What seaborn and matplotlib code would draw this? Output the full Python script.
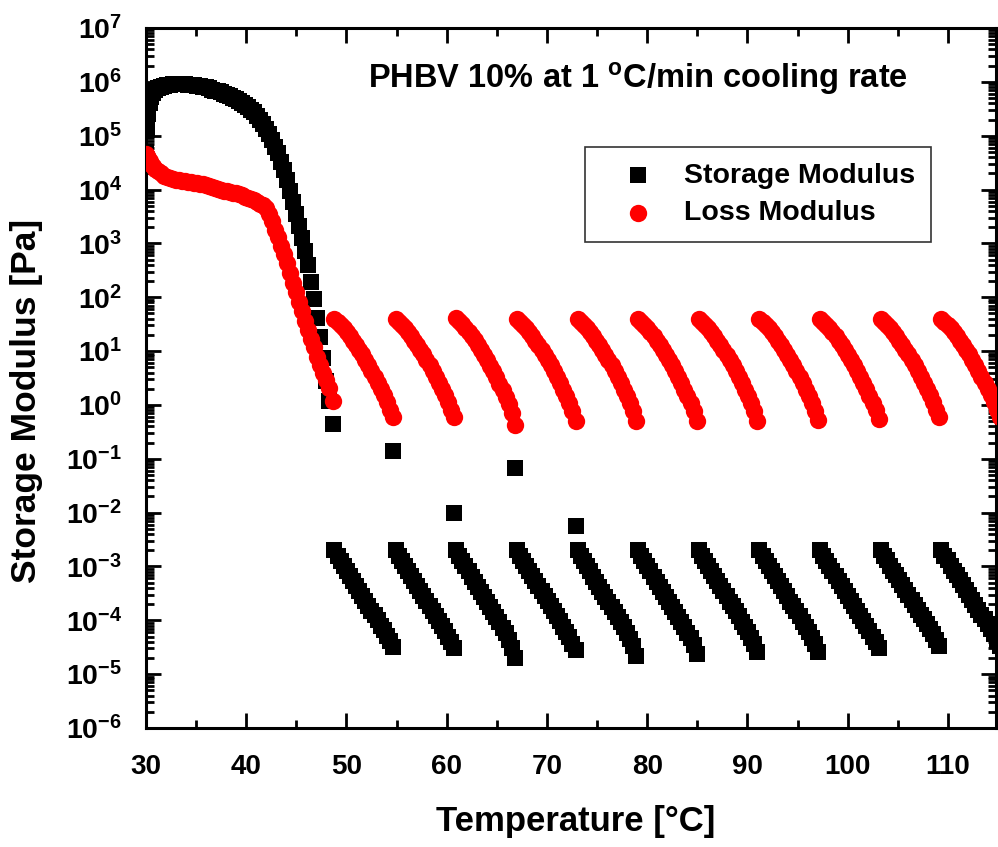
import matplotlib
matplotlib.use("Agg")
import matplotlib.pyplot as plt
import seaborn as sns
import pandas as pd
import numpy as np
from matplotlib.ticker import LogLocator, MultipleLocator, FuncFormatter, NullFormatter

# ---------------- data ----------------
temp_init = [30.0, 30.1, 30.2, 30.35, 30.5, 30.7, 30.9, 31.2, 31.5, 31.8, 32.1, 32.4, 32.7,
             33.0, 33.3, 33.6, 33.9, 34.2, 34.5, 34.8, 35.1, 35.4, 35.7, 36.0, 36.3, 36.6,
             36.9, 37.2, 37.5, 37.8, 38.1, 38.4, 38.7, 39.0, 39.3, 39.6, 39.9, 40.2, 40.5,
             40.8, 41.1, 41.4, 41.7, 42.0, 42.3, 42.6, 42.9, 43.2, 43.5, 43.8, 44.1, 44.4,
             44.7, 45.0, 45.3, 45.6, 45.9, 46.2, 46.5, 46.8, 47.1, 47.4, 47.7, 48.0, 48.3, 48.7]

storage_init = [5.0e4, 1.26e5, 2.5e5, 4.0e5, 5.25e5, 6.3e5, 7.1e5, 7.8e5, 8.1e5, 8.5e5, 8.7e5,
                8.9e5, 9.1e5, 9.1e5, 9.1e5, 9.1e5, 9.1e5, 8.9e5, 8.9e5, 8.7e5, 8.5e5, 8.3e5,
                8.1e5, 7.9e5, 7.6e5, 7.2e5, 6.9e5, 6.8e5, 6.5e5, 6.0e5, 5.75e5, 5.4e5, 5.0e5,
                4.8e5, 4.5e5, 4.1e5, 3.7e5, 3.4e5, 3.0e5, 2.7e5, 2.3e5, 2.0e5, 1.66e5, 1.35e5,
                1.07e5, 8.3e4, 6.3e4, 4.7e4, 3.3e4, 2.3e4, 1.5e4, 9.5e3, 5.8e3, 3.5e3, 2.1e3,
                1.26e3, 7.2e2, 4.0e2, 1.95e2, 91, 42, 18, 7.6, 2.8, 1.2, 0.45]

loss_init = [4.5e4, 4.2e4, 3.8e4, 3.4e4, 3.0e4, 2.7e4, 2.45e4, 2.2e4, 2.0e4, 1.82e4, 1.7e4,
             1.62e4, 1.55e4, 1.51e4, 1.48e4, 1.45e4, 1.45e4, 1.41e4, 1.38e4, 1.35e4, 1.32e4,
             1.29e4, 1.26e4, 1.2e4, 1.15e4, 1.10e4, 1.05e4, 1.02e4, 1.0e4, 9.5e3, 9.3e3, 9.1e3,
             8.7e3, 8.5e3, 8.1e3, 7.8e3, 7.4e3, 7.1e3, 6.8e3, 6.3e3, 5.9e3, 5.5e3, 5.1e3, 4.6e3,
             3.5e3, 2.6e3, 1.8e3, 1.29e3, 9.1e2, 6.3e2, 4.3e2, 2.8e2, 1.86e2, 1.23e2, 81, 55,
             37, 25, 17, 11.7, 7.9, 5.5, 4.0, 2.95, 2.1, 1.2]

# temperature of the first point of each oscillation block
seg_start = [48.8, 54.9, 60.95, 67.0, 73.05, 79.1, 85.15, 91.2, 97.25, 103.3, 109.35]
# temperature steps inside one block
seg_dt = [0.0, 0.31, 0.62, 0.92, 1.23, 1.54, 1.85, 2.15, 2.46, 2.77,
          3.08, 3.39, 3.69, 4.0, 4.31, 4.62, 4.92, 5.23, 5.54, 5.85]

storage_segs = [
    [2.0e-3, 1.58e-3, 1.29e-3, 1.02e-3, 8.3e-4, 6.6e-4, 5.4e-4, 4.4e-4, 3.5e-4, 2.8e-4,
     2.3e-4, 1.86e-4, 1.51e-4, 1.23e-4, 1.0e-4, 7.9e-5, 6.5e-5, 5.1e-5, 4.1e-5, 3.2e-5],
    [2.0e-3, 1.58e-3, 1.28e-3, 1.02e-3, 8.2e-4, 6.6e-4, 5.3e-4, 4.3e-4, 3.5e-4, 2.8e-4,
     2.25e-4, 1.84e-4, 1.5e-4, 1.22e-4, 9.8e-5, 7.8e-5, 6.3e-5, 5.0e-5, 3.9e-5, 3.0e-5],
    [2.0e-3, 1.57e-3, 1.27e-3, 1.01e-3, 8.1e-4, 6.5e-4, 5.2e-4, 4.2e-4, 3.4e-4, 2.7e-4,
     2.2e-4, 1.78e-4, 1.43e-4, 1.15e-4, 9.2e-5, 7.3e-5, 5.7e-5, 4.3e-5, 3.1e-5, 2.0e-5],
    [2.0e-3, 1.58e-3, 1.28e-3, 1.02e-3, 8.2e-4, 6.6e-4, 5.3e-4, 4.3e-4, 3.5e-4, 2.8e-4,
     2.25e-4, 1.83e-4, 1.48e-4, 1.2e-4, 9.6e-5, 7.6e-5, 6.1e-5, 4.8e-5, 3.7e-5, 2.8e-5],
    [2.0e-3, 1.57e-3, 1.27e-3, 1.01e-3, 8.1e-4, 6.5e-4, 5.2e-4, 4.2e-4, 3.4e-4, 2.7e-4,
     2.2e-4, 1.79e-4, 1.44e-4, 1.16e-4, 9.3e-5, 7.4e-5, 5.8e-5, 4.5e-5, 3.3e-5, 2.2e-5],
    [2.0e-3, 1.58e-3, 1.27e-3, 1.01e-3, 8.1e-4, 6.5e-4, 5.2e-4, 4.2e-4, 3.4e-4, 2.75e-4,
     2.2e-4, 1.8e-4, 1.45e-4, 1.17e-4, 9.4e-5, 7.5e-5, 5.9e-5, 4.6e-5, 3.5e-5, 2.4e-5],
    [2.0e-3, 1.58e-3, 1.28e-3, 1.02e-3, 8.2e-4, 6.6e-4, 5.3e-4, 4.3e-4, 3.5e-4, 2.8e-4,
     2.23e-4, 1.81e-4, 1.46e-4, 1.18e-4, 9.5e-5, 7.6e-5, 6.0e-5, 4.7e-5, 3.6e-5, 2.6e-5],
    [2.0e-3, 1.58e-3, 1.28e-3, 1.02e-3, 8.2e-4, 6.6e-4, 5.3e-4, 4.3e-4, 3.5e-4, 2.8e-4,
     2.23e-4, 1.81e-4, 1.46e-4, 1.18e-4, 9.5e-5, 7.6e-5, 6.0e-5, 4.7e-5, 3.6e-5, 2.6e-5],
    [2.0e-3, 1.58e-3, 1.29e-3, 1.02e-3, 8.3e-4, 6.6e-4, 5.4e-4, 4.4e-4, 3.5e-4, 2.8e-4,
     2.28e-4, 1.85e-4, 1.5e-4, 1.22e-4, 9.9e-5, 7.9e-5, 6.4e-5, 5.0e-5, 3.9e-5, 3.0e-5],
    [2.0e-3, 1.59e-3, 1.3e-3, 1.04e-3, 8.4e-4, 6.8e-4, 5.5e-4, 4.5e-4, 3.6e-4, 2.9e-4,
     2.35e-4, 1.92e-4, 1.56e-4, 1.27e-4, 1.04e-4, 8.4e-5, 6.8e-5, 5.5e-5, 4.4e-5, 3.4e-5],
    [2.0e-3, 1.59e-3, 1.3e-3, 1.04e-3, 8.4e-4, 6.8e-4, 5.5e-4, 4.5e-4, 3.6e-4, 2.9e-4,
     2.35e-4, 1.92e-4, 1.56e-4, 1.27e-4, 1.04e-4, 8.4e-5, 6.8e-5, 5.5e-5, 4.4e-5, 3.4e-5],
]

loss_segs = [
    [39.8, 35.0, 30.4, 26.3, 22.4, 18.9, 15.7, 13.1, 10.7, 8.65,
     6.92, 5.50, 4.35, 3.37, 2.59, 1.97, 1.50, 1.12, 0.82, 0.60],
    [39.8, 35.0, 30.4, 26.3, 22.4, 18.9, 15.7, 13.1, 10.7, 8.65,
     6.92, 5.50, 4.35, 3.37, 2.59, 1.97, 1.50, 1.12, 0.82, 0.60],
    [41.0, 36.0, 31.2, 26.9, 22.8, 19.2, 15.9, 13.2, 10.7, 8.6,
     6.85, 5.40, 4.25, 3.27, 2.48, 1.86, 1.40, 1.02, 0.72, 0.43],
    [40.0, 35.2, 30.5, 26.4, 22.4, 18.9, 15.7, 13.0, 10.6, 8.55,
     6.85, 5.42, 4.28, 3.30, 2.52, 1.91, 1.44, 1.07, 0.76, 0.50],
    [39.8, 35.0, 30.4, 26.3, 22.4, 18.9, 15.7, 13.0, 10.6, 8.55,
     6.85, 5.42, 4.28, 3.30, 2.52, 1.91, 1.44, 1.07, 0.76, 0.50],
    [39.8, 35.0, 30.4, 26.3, 22.4, 18.9, 15.7, 13.0, 10.6, 8.55,
     6.85, 5.42, 4.28, 3.30, 2.52, 1.91, 1.44, 1.07, 0.76, 0.50],
    [39.8, 35.0, 30.4, 26.3, 22.4, 18.9, 15.7, 13.0, 10.6, 8.55,
     6.85, 5.42, 4.28, 3.30, 2.52, 1.91, 1.44, 1.07, 0.76, 0.50],
    [39.8, 35.0, 30.4, 26.3, 22.4, 18.9, 15.7, 13.1, 10.7, 8.6,
     6.88, 5.45, 4.30, 3.33, 2.55, 1.93, 1.46, 1.09, 0.78, 0.52],
    [39.8, 35.0, 30.4, 26.3, 22.4, 18.9, 15.7, 13.1, 10.7, 8.6,
     6.90, 5.48, 4.33, 3.35, 2.57, 1.95, 1.48, 1.10, 0.80, 0.55],
    [39.8, 35.0, 30.4, 26.3, 22.4, 18.9, 15.7, 13.1, 10.7, 8.65,
     6.92, 5.50, 4.35, 3.37, 2.59, 1.97, 1.50, 1.12, 0.82, 0.60],
    [39.8, 35.0, 30.4, 26.3, 22.4, 18.9, 15.7, 13.1, 10.7, 8.65,
     6.92, 5.50, 4.35, 3.37, 2.59, 1.97, 1.50, 1.12, 0.82, 0.60],
]

# isolated storage-modulus points at the end of the first blocks
iso_temp = [54.65, 60.75, 66.85, 72.9]
iso_storage = [0.14, 0.010, 0.068, 0.0056]

title_text = "PHBV 10% at 1 $^{o}$C/min cooling rate"
x_label = "Temperature [°C]"
y_label = "Storage Modulus [Pa]"
x_ticks = [30, 40, 50, 60, 70, 80, 90, 100, 110]

# ---------------- build tidy table ----------------
rows = []
for t, s, l in zip(temp_init, storage_init, loss_init):
    rows.append((t, s, "Storage Modulus"))
    rows.append((t, l, "Loss Modulus"))
for t0, sseg, lseg in zip(seg_start, storage_segs, loss_segs):
    for dt, s, l in zip(seg_dt, sseg, lseg):
        rows.append((t0 + dt, s, "Storage Modulus"))
        rows.append((t0 + dt, l, "Loss Modulus"))
for t, s in zip(iso_temp, iso_storage):
    rows.append((t, s, "Storage Modulus"))
df = pd.DataFrame(rows, columns=["T", "G", "series"])

# ---------------- style ----------------
sns.set_theme(style="ticks")
plt.rcParams["font.family"] = ["Liberation Sans", "DejaVu Sans"]
plt.rcParams["font.weight"] = "bold"
plt.rcParams["text.color"] = "black"
plt.rcParams["axes.labelcolor"] = "black"
plt.rcParams["xtick.color"] = "black"
plt.rcParams["ytick.color"] = "black"
plt.rcParams["axes.edgecolor"] = "black"
plt.rcParams["mathtext.fontset"] = "custom"
plt.rcParams["mathtext.rm"] = "Liberation Sans:bold"
plt.rcParams["mathtext.bf"] = "Liberation Sans:bold"
plt.rcParams["mathtext.it"] = "Liberation Sans:bold"
plt.rcParams["mathtext.default"] = "rm"

fig = plt.figure(figsize=(9.98, 8.47), dpi=100)
ax = fig.add_axes([0.1463, 0.1405, 0.8517, 0.8264])

sns.scatterplot(data=df[df.series == "Storage Modulus"], x="T", y="G", marker="s",
                s=121, color="black", linewidth=0, ax=ax, label="Storage Modulus", zorder=3)
sns.scatterplot(data=df[df.series == "Loss Modulus"], x="T", y="G", marker="o",
                s=156, color="#ff0000", linewidth=0, ax=ax, label="Loss Modulus", zorder=4)

ax.set_yscale("log")
ax.set_xlim(30, 114.8)
ax.set_ylim(1e-6, 1e7)

ax.xaxis.set_major_locator(plt.FixedLocator(x_ticks))
ax.xaxis.set_minor_locator(MultipleLocator(5))
ax.yaxis.set_major_locator(LogLocator(base=10, numticks=20))
ax.yaxis.set_minor_locator(LogLocator(base=10, subs=np.arange(2, 10), numticks=20))
ax.yaxis.set_minor_formatter(NullFormatter())
ax.yaxis.set_major_formatter(FuncFormatter(lambda v, p: r"$10^{%d}$" % int(round(np.log10(v)))))

for sp in ax.spines.values():
    sp.set_linewidth(2.2)
    sp.set_color("black")
    sp.set_visible(True)

ax.tick_params(which="both", direction="in", top=True, right=True, color="black",
               labelcolor="black")
ax.tick_params(which="major", length=11, width=2.0)
ax.tick_params(which="minor", length=6, width=2.0)
ax.tick_params(axis="x", which="major", labelsize=20, pad=19)
ax.tick_params(axis="y", which="major", labelsize=20.5, pad=17)
for lab in ax.get_xticklabels() + ax.get_yticklabels():
    lab.set_fontweight("bold")

ax.set_xlabel(x_label, fontsize=25, fontweight="bold", color="black")
ax.set_ylabel(y_label, fontsize=25.5, fontweight="bold", color="black")
ax.xaxis.set_label_coords(0.506, -0.110)
ax.yaxis.set_label_coords(-0.121, 0.467)

ax.text(0.579, 0.9286, title_text, transform=ax.transAxes, ha="center", va="center",
        fontsize=23.5, fontweight="bold", color="black")

leg = ax.legend(loc="upper left", bbox_to_anchor=(0.5165, 0.830), frameon=True,
                fancybox=False, framealpha=1, edgecolor="#333333",
                prop={"size": 20.5, "weight": "bold"}, borderpad=0.55, handlelength=2.6,
                handletextpad=0.33, labelspacing=0.4, borderaxespad=0)
leg.get_frame().set_linewidth(1.2)
for t in leg.get_texts():
    t.set_color("black")

fig.savefig("out.png", dpi=100)
